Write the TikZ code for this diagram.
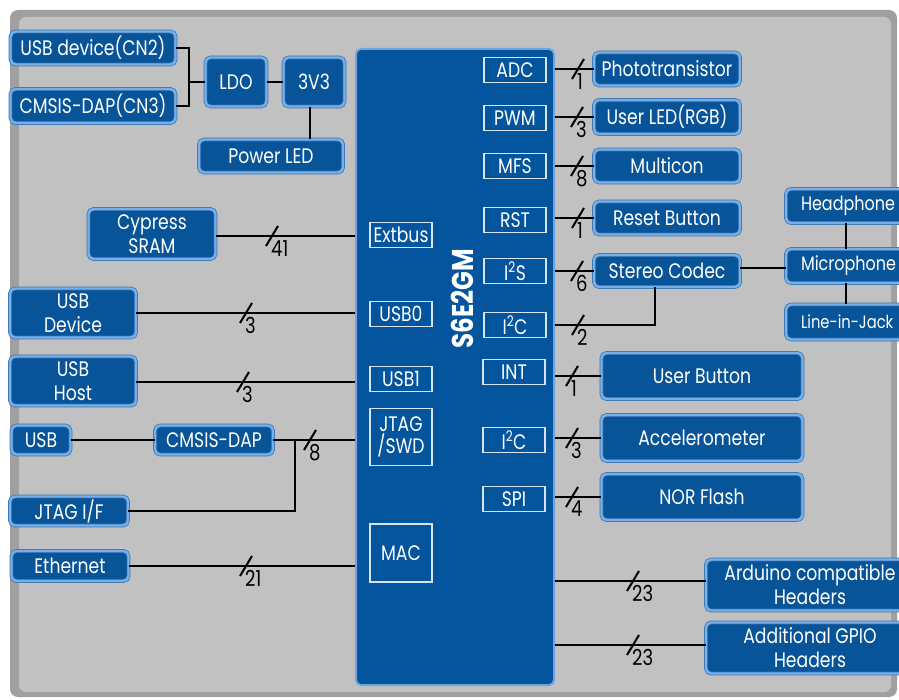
\documentclass[tikz,border=0pt]{standalone}
\usepackage{fontspec}
\setmainfont{Poppins}[FakeStretch=0.82]
\definecolor{boxblue}{RGB}{8,84,152}
\definecolor{edgelight}{RGB}{120,175,230}
\definecolor{edgedark}{RGB}{55,115,180}
\definecolor{chipblue}{RGB}{4,84,158}
\definecolor{chipedge}{RGB}{110,165,222}
\definecolor{panel}{RGB}{193,193,193}
\definecolor{panelband}{RGB}{160,160,160}
\definecolor{pinline}{RGB}{215,228,242}
\newcommand{\busmark}[3]{%
  \coordinate (#1) at #2;
  \draw[wire] ([shift={(-6,10)}]#1) -- ([shift={(6,-10)}]#1);
  \node[buslbl, anchor=north west] (#1l) at ([shift={(-1,4)}]#1) {#3};
}
\begin{document}
\begin{tikzpicture}[x=1pt,y=-1pt,
  blk/.style={draw=edgedark, line width=0.7pt, double=edgelight, double distance=2.4pt,
    fill=boxblue, rounded corners=5pt, text=white, font=\fontsize{21}{24}\selectfont,
    align=center, inner sep=0pt},
  edgeblk/.style={blk, minimum width=128pt, text width=98pt, align=left,
    font=\fontsize{19.5}{24}\selectfont},
  chip/.style={draw=chipedge, line width=2pt, fill=chipblue, rounded corners=5pt, inner sep=0pt},
  pin/.style={draw=pinline, line width=1.2pt, text=white, font=\fontsize{21}{22}\selectfont,
    align=center, inner sep=0pt, minimum width=62pt, minimum height=25pt},
  wire/.style={draw=black, line width=2pt},
  buslbl/.style={text=black, font=\fontsize{22}{22}\selectfont, inner sep=0pt}]
\useasboundingbox (0,0) rectangle (899,700);
\fill[white] (0,0) rectangle (899,700);
\fill[panelband, rounded corners=8pt] (10,10) rectangle (897,697);
\fill[panel, rounded corners=7pt] (19,17) rectangle (891,692);

% chip
\node[chip, minimum width=198pt, minimum height=636pt] (chip) at (455,367) {};
\node[rotate=90, text=white, font=\bfseries\fontsize{30}{30}\selectfont, inner sep=0pt] (chipname) at (462,299) {S6E2GM};
\node[pin] (adc) at (515,70) {ADC};
\node[pin] (pwm) at (515,118) {PWM};
\node[pin] (mfs) at (515,166) {MFS};
\node[pin] (rst) at (515,220) {RST};
\node[pin] (i2s) at (515,271) {I\textsuperscript{2}S};
\node[pin] (i2ca) at (515,325) {I\textsuperscript{2}C};
\node[pin] (int) at (514,372) {INT};
\node[pin] (i2cb) at (514,440) {I\textsuperscript{2}C};
\node[pin] (spi) at (514,499) {SPI};
\node[pin] (extbus) at (401,235) {Extbus};
\node[pin] (usb0) at (401,314) {USB0};
\node[pin] (usb1) at (401,379) {USB1};
\node[pin, minimum height=57pt, font=\fontsize{21}{22}\selectfont] (jtag) at (401,437) {JTAG\\/SWD};
\node[pin, minimum height=58pt] (mac) at (401,553) {MAC};

% left blocks
\node[blk, minimum width=165pt, minimum height=33pt] (cn2) at (93,48) {USB device(CN2)};
\node[blk, minimum width=165pt, minimum height=34pt] (cn3) at (93,106) {CMSIS-DAP(CN3)};
\node[blk, minimum width=61pt, minimum height=49pt] (ldo) at (236,82) {LDO};
\node[blk, minimum width=61pt, minimum height=49pt] (v33) at (314,82) {3V3};
\node[blk, minimum width=144pt, minimum height=33pt] (pled) at (271,156) {Power LED};
\node[blk, minimum width=127pt, minimum height=50pt] (sram) at (152,234) {Cypress\\SRAM};
\node[blk, minimum width=126pt, minimum height=49pt] (usbdev) at (73,313) {USB\\Device};
\node[blk, minimum width=126pt, minimum height=49pt] (usbhost) at (73,381) {USB\\Host};
\node[blk, minimum width=59pt, minimum height=29pt] (usb) at (41,440) {USB};
\node[blk, minimum width=118pt, minimum height=29pt] (cmsis) at (214,440) {CMSIS-DAP};
\node[blk, minimum width=118pt, minimum height=29pt] (jtagif) at (69,511) {JTAG I/F};
\node[blk, minimum width=117pt, minimum height=30pt] (eth) at (70,566) {Ethernet};

% right blocks
\node[blk, minimum width=146pt, minimum height=33pt] (photo) at (667,69) {Phototransistor};
\node[blk, minimum width=146pt, minimum height=34pt] (uled) at (667,117) {User LED(RGB)};
\node[blk, minimum width=146pt, minimum height=33pt] (multi) at (667,166) {Multicon};
\node[blk, minimum width=146pt, minimum height=33pt] (rstb) at (667,218) {Reset Button};
\node[blk, minimum width=146pt, minimum height=32pt] (codec) at (667,271) {Stereo Codec};
\node[edgeblk, minimum height=34pt] (headph) at (850,206) {\mbox{Headphone}};
\node[edgeblk, minimum height=34pt] (micro) at (850,266) {\mbox{Microphone}};
\node[edgeblk, minimum height=35pt, font=\fontsize{18}{24}\selectfont] (linein) at (850,322) {\mbox{Line-in-Jack}};
\node[blk, minimum width=201pt, minimum height=46pt] (ubtn) at (702,376) {User Button};
\node[blk, minimum width=201pt, minimum height=46pt] (accel) at (702,438) {Accelerometer};
\node[blk, minimum width=201pt, minimum height=46pt] (nor) at (702,497) {NOR Flash};
\node[blk, minimum width=208pt, minimum height=51pt] (ardu) at (810,585) {Arduino compatible\\Headers};
\node[blk, minimum width=208pt, minimum height=51pt] (gpio) at (810,648) {Additional GPIO\\Headers};

% power wiring
\coordinate (j1) at (189,82);
\draw[wire] (cn2.east) -| (j1);
\draw[wire] (cn3.east) -| (j1);
\draw[wire] (j1) -- (ldo.west);
\draw[wire] (ldo.east) -- (v33.west);
\draw[wire] ([xshift=-4pt]v33.south) -- ([xshift=-4pt]v33.south |- pled.north);

% left buses
\draw[wire] ([yshift=-2pt]sram.east) -- ([yshift=-2pt]sram.east -| chip.west);
\busmark{b41}{(272,236)}{41}
\draw[wire] (usbdev.east) -- (usbdev.east -| chip.west);
\busmark{bdev}{(246,313)}{3}
\draw[wire] ([yshift=-1pt]usbhost.east) -- ([yshift=-1pt]usbhost.east -| chip.west);
\busmark{bhost}{(243,382)}{3}
\draw[wire] (usb.east) -- (cmsis.west);
\draw[wire] (cmsis.east) -- (cmsis.east -| chip.west);
\coordinate (j2) at (295,440);
\draw[wire] (jtagif.east) -| (j2);
\busmark{b8}{(310,440)}{8}
\draw[wire] (eth.east) -- (eth.east -| chip.west);
\busmark{b21}{(246,566)}{21}

% right buses
\draw[wire] (photo.west -| chip.east) -- (photo.west);
\busmark{badc}{(578,69)}{1}
\draw[wire] (uled.west -| chip.east) -- (uled.west);
\busmark{bpwm}{(577,117)}{3}
\draw[wire] (multi.west -| chip.east) -- (multi.west);
\busmark{bmfs}{(577,166)}{8}
\draw[wire] (rstb.west -| chip.east) -- (rstb.west);
\busmark{brst}{(578,218)}{1}
\draw[wire] (codec.west -| chip.east) -- (codec.west);
\busmark{bi2s}{(577,271)}{6}
\draw[wire] (i2ca.east -| chip.east) -| ([xshift=-12pt]codec.south);
\busmark{bi2c}{(578,325)}{2}
\draw[wire] ([yshift=3pt]codec.east) -- ([yshift=3pt]codec.east -| micro.west);
\draw[wire] ([xshift=-4pt]headph.south) -- ([xshift=-4pt]micro.north);
\draw[wire] ([xshift=-4pt]micro.south) -- ([xshift=-4pt]linein.north);
\draw[wire] (ubtn.west -| chip.east) -- (ubtn.west);
\busmark{bint}{(572,376)}{1}
\draw[wire] (accel.west -| chip.east) -- (accel.west);
\busmark{bacc}{(572,438)}{3}
\draw[wire] (nor.west -| chip.east) -- (nor.west);
\busmark{bspi}{(572,497)}{4}
\draw[wire] ([yshift=4pt]ardu.west -| chip.east) -- ([yshift=4pt]ardu.west);
\busmark{bard}{(633,581)}{23}
\draw[wire] ([yshift=3pt]gpio.west -| chip.east) -- ([yshift=3pt]gpio.west);
\busmark{bgpio}{(633,645)}{23}
\end{tikzpicture}
\end{document}
